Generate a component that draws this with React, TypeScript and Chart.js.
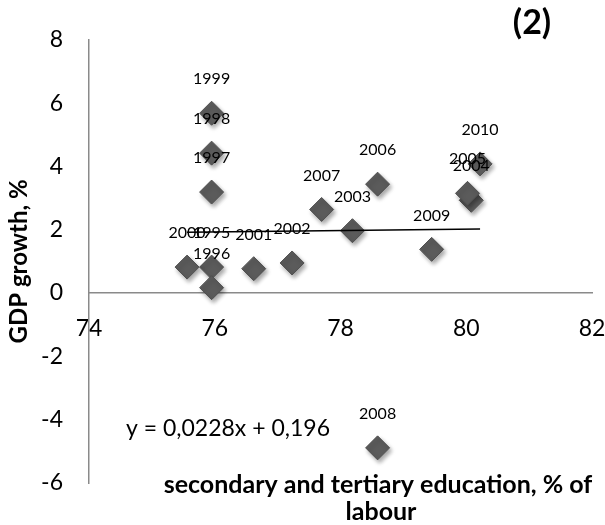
import React, { useEffect, useRef } from "react";
import { Chart, registerables } from "chart.js";

Chart.register(...registerables);

const years = ["1995", "1996", "1997", "1998", "1999", "2000", "2001", "2002", "2003", "2004", "2005", "2006", "2007", "2008", "2009", "2010"];
const education = [75.95, 75.95, 75.95, 75.95, 75.95, 75.56, 76.62, 77.23, 78.19, 80.08, 80.02, 78.59, 77.7, 78.59, 79.45, 80.22];
const gdpGrowth = [0.82, 0.17, 3.19, 4.42, 5.68, 0.82, 0.77, 0.95, 1.97, 2.93, 3.15, 3.44, 2.64, -4.89, 1.38, 4.08];
const trendSlope = 0.0228;
const trendIntercept = 0.196;
const equationText = "y = 0,0228x + 0,196";
const panelTitle = "(2)";
const xTitleLines = ["secondary and tertiary education, % of", "labour"];
const yTitle = "GDP growth, %";
const xRange = [74, 82];
const yRange = [-6, 8];

const FONT = "Lato, 'Open Sans', sans-serif";

export default function App() {
  const ref = useRef<HTMLCanvasElement | null>(null);
  useEffect(() => {
    const canvas = ref.current;
    if (!canvas) return;
    const points = education.map((x, i) => ({ x, y: gdpGrowth[i] }));
    const xmin = Math.min(...education);
    const xmax = Math.max(...education);
    const trend = [
      { x: xmin, y: trendSlope * xmin + trendIntercept },
      { x: xmax, y: trendSlope * xmax + trendIntercept },
    ];

    const shadowPlugin = {
      id: "shadow",
      beforeDatasetDraw(chart: any, args: any) {
        if (args.index !== 0) return;
        const ctx = chart.ctx;
        ctx.save();
        ctx.shadowColor = "rgba(0,0,0,0.35)";
        ctx.shadowBlur = 4;
        ctx.shadowOffsetX = 2;
        ctx.shadowOffsetY = 3;
      },
      afterDatasetDraw(chart: any, args: any) {
        if (args.index !== 0) return;
        chart.ctx.restore();
      },
    };

    const labelPlugin = {
      id: "labels",
      afterDatasetsDraw(chart: any) {
        const ctx = chart.ctx;
        const meta = chart.getDatasetMeta(0);
        ctx.save();
        ctx.fillStyle = "#000";
        ctx.font = `16px ${FONT}`;
        ctx.textAlign = "center";
        ctx.textBaseline = "middle";
        meta.data.forEach((el: any, i: number) => {
          ctx.fillText(years[i], el.x, el.y - 34);
        });
        ctx.restore();
      },
      afterDraw(chart: any) {
        const ctx = chart.ctx;
        ctx.save();
        ctx.fillStyle = "#000";
        ctx.textAlign = "center";
        ctx.textBaseline = "middle";
        ctx.font = `bold 34px ${FONT}`;
        ctx.fillText(panelTitle, 532, 23);
        ctx.font = `23px ${FONT}`;
        ctx.fillText(equationText, 228, 429);
        ctx.font = `bold 25px ${FONT}`;
        ctx.fillText(xTitleLines[0], 378, 485);
        ctx.fillText(xTitleLines[1], 381, 512);
        ctx.restore();
      },
    };

    const chart = new Chart(canvas, {
      type: "scatter",
      data: {
        datasets: [
          {
            label: "GDP growth",
            data: points,
            pointStyle: "rectRot",
            pointRadius: 12,
            pointHoverRadius: 12,
            backgroundColor: "#5b5b5b",
            borderColor: "#4f4f4f",
            borderWidth: 1,
            order: 1,
          },
          {
            type: "line",
            label: "trend",
            data: trend,
            borderColor: "#000",
            borderWidth: 1.5,
            pointRadius: 0,
            fill: false,
            order: 0,
          } as any,
        ],
      },
      options: {
        responsive: false,
        animation: false,
        layout: { padding: { top: 38, right: 12, bottom: 42, left: 0 } },
        plugins: {
          legend: { display: false },
          tooltip: { enabled: false },
        },
        scales: {
          x: {
            type: "linear",
            position: { y: 0 } as any,
            min: xRange[0],
            max: xRange[1],
            grid: { display: false, drawTicks: false },
            border: { display: true, color: "#8a8a8a", width: 1.5 },
            ticks: {
              stepSize: 2,
              padding: 22,
              color: "#000",
              font: { family: FONT, size: 23 },
              maxRotation: 0,
            },
            afterFit(scale: any) {
              scale.paddingLeft = 0;
              scale.paddingRight = 0;
            },
          },
          y: {
            type: "linear",
            position: "left",
            min: yRange[0],
            max: yRange[1],
            grid: { display: false, drawTicks: false },
            border: { display: true, color: "#8a8a8a", width: 1.5 },
            ticks: {
              stepSize: 2,
              padding: 26,
              color: "#000",
              font: { family: FONT, size: 23 },
            },
            title: {
              display: true,
              text: yTitle,
              color: "#000",
              font: { family: FONT, size: 24, weight: "bold" },
              padding: { top: 5, bottom: 0 },
            },
            afterFit(scale: any) {
              scale.width = 89;
            },
          },
        },
      },
      plugins: [shadowPlugin, labelPlugin],
    });
    return () => chart.destroy();
  }, []);

  return (
    <div style={{ position: "absolute", left: 0, top: 0, width: 605, height: 525, background: "#fff" }}>
      <canvas ref={ref} width={605} height={525} style={{ display: "block" }} />
    </div>
  );
}
